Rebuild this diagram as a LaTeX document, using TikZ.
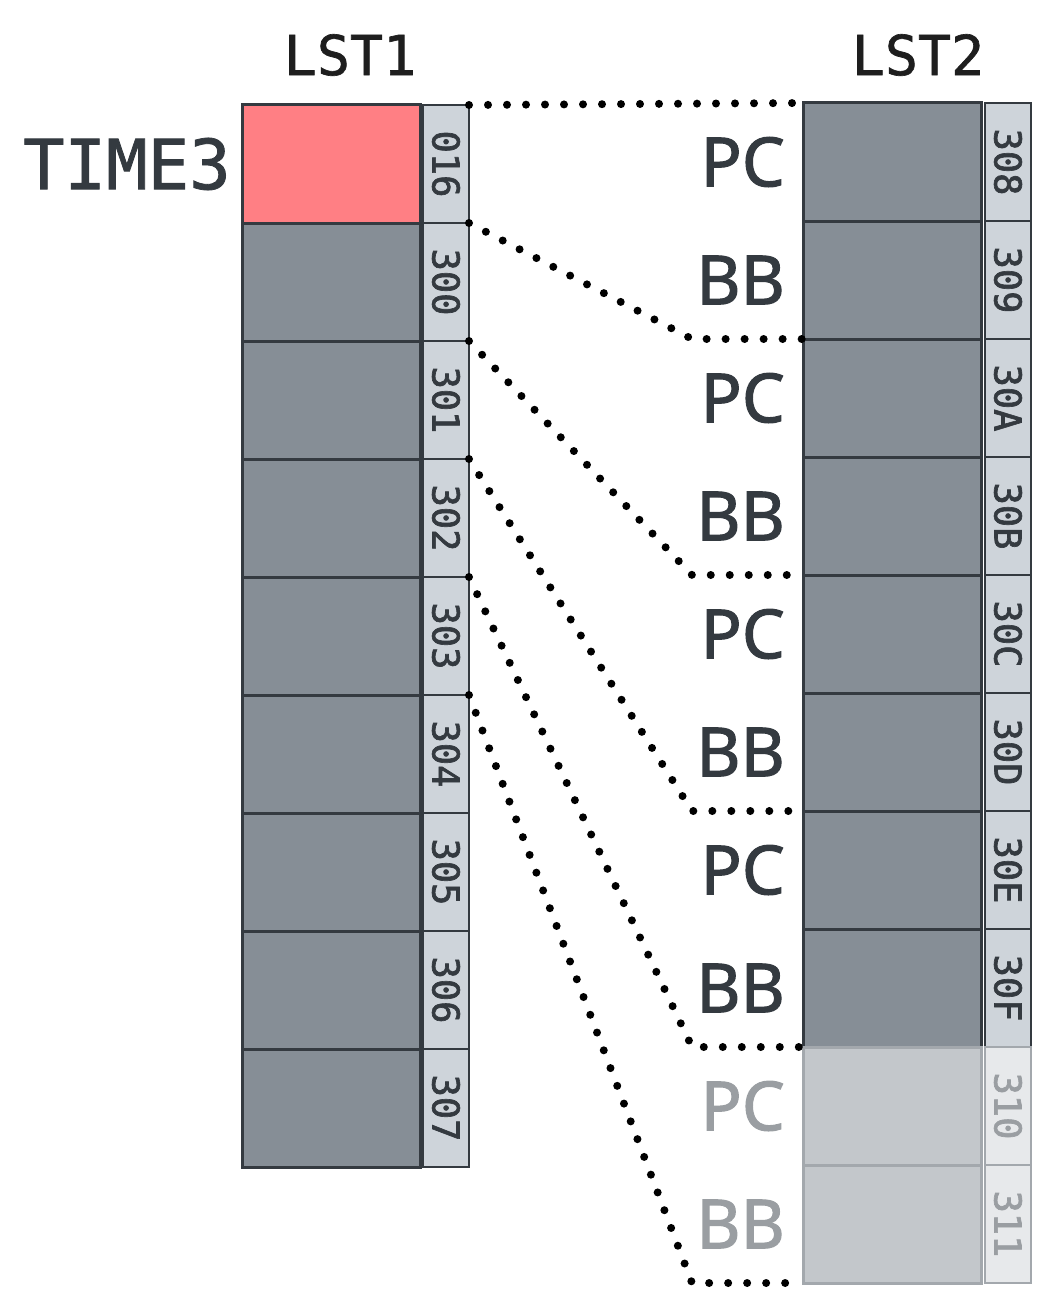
\documentclass[tikz,border=0pt]{standalone}
\usepackage{fontspec}
\setmainfont{Noto Sans}
\newfontfamily\namefont[FakeBold=1.6]{Noto Sans}
\newfontfamily\monofont[FakeBold=1.2]{DejaVu Sans Mono}
\newfontfamily\tagfont[FakeBold=1.8]{DejaVu Sans Mono}
\usepackage{tikz}
\usetikzlibrary{positioning}
\definecolor{slate}{HTML}{343A40}
\definecolor{headblack}{HTML}{1E1E1E}
\definecolor{cellgray}{HTML}{868E96}
\definecolor{taggray}{HTML}{CED4DA}
\definecolor{salmon}{HTML}{FF7F84}
\definecolor{fadecell}{HTML}{C3C7CB}
\definecolor{fadetag}{HTML}{E7E9EB}
\definecolor{fadetext}{HTML}{9A9EA2}
\definecolor{fadeline}{HTML}{A3A8AD}

\begin{document}
\begin{tikzpicture}[x = 1pt, y = -1pt, node distance = 0pt]
  \useasboundingbox (0,0) rectangle (1054,1303);
  \tikzset{CellStyle/.style = {shape          = rectangle,
                               draw           = slate,
                               fill           = cellgray,
                               line width     = 3pt,
                               minimum width  = 178pt,
                               minimum height = 118pt,
                               inner sep      = 0pt,
                               outer sep      = 0pt}}
  \tikzset{TagStyle/.style  = {shape          = rectangle,
                               draw           = slate,
                               fill           = taggray,
                               text           = slate,
                               line width     = 2.5pt,
                               minimum width  = 46pt,
                               minimum height = 118pt,
                               inner sep      = 0pt,
                               outer sep      = 0pt,
                               font           = \tagfont\fontsize{37}{40}\selectfont}}
  \tikzset{NameStyle/.style = {text           = slate,
                               inner sep      = 0pt,
                               font           = \namefont\fontsize{68}{80}\selectfont}}
  \tikzset{HeadStyle/.style = {text           = headblack,
                               inner sep      = 0pt,
                               font           = \monofont\fontsize{55}{60}\selectfont}}
  \tikzset{FadeStyle/.style = {draw           = fadeline,
                               text           = fadetext}}
  \tikzset{DotStyle/.style  = {line width     = 8pt,
                               line cap       = round,
                               dash pattern   = on 0pt off 19pt}}

     % LST1
     \node[HeadStyle] (H1) at (350,55) {LST1};
     \node[CellStyle, fill = salmon] (L1) at (331,164) {};
     \node[CellStyle, below = of L1] (L2) {};
     \node[CellStyle, below = of L2] (L3) {};
     \node[CellStyle, below = of L3] (L4) {};
     \node[CellStyle, below = of L4] (L5) {};
     \node[CellStyle, below = of L5] (L6) {};
     \node[CellStyle, below = of L6] (L7) {};
     \node[CellStyle, below = of L7] (L8) {};
     \node[CellStyle, below = of L8] (L9) {};
     \node[TagStyle, right = 3pt of L1] (A1) {\rotatebox{-90}{016}};
     \node[TagStyle, right = 3pt of L2] (A2) {\rotatebox{-90}{300}};
     \node[TagStyle, right = 3pt of L3] (A3) {\rotatebox{-90}{301}};
     \node[TagStyle, right = 3pt of L4] (A4) {\rotatebox{-90}{302}};
     \node[TagStyle, right = 3pt of L5] (A5) {\rotatebox{-90}{303}};
     \node[TagStyle, right = 3pt of L6] (A6) {\rotatebox{-90}{304}};
     \node[TagStyle, right = 3pt of L7] (A7) {\rotatebox{-90}{305}};
     \node[TagStyle, right = 3pt of L8] (A8) {\rotatebox{-90}{306}};
     \node[TagStyle, right = 3pt of L9] (A9) {\rotatebox{-90}{307}};
     \node[NameStyle, font = \monofont\fontsize{69}{70}\selectfont,
           left = 11pt of L1] (T) {TIME3};

     % LST2
     \node[HeadStyle] (H2) at (918,55) {LST2};
     \node[CellStyle] (R1) at (892,162) {};
     \node[CellStyle, below = of R1] (R2) {};
     \node[CellStyle, below = of R2] (R3) {};
     \node[CellStyle, below = of R3] (R4) {};
     \node[CellStyle, below = of R4] (R5) {};
     \node[CellStyle, below = of R5] (R6) {};
     \node[CellStyle, below = of R6] (R7) {};
     \node[CellStyle, below = of R7] (R8) {};
     \node[CellStyle, FadeStyle, fill = fadecell, below = of R8] (R9) {};
     \node[CellStyle, FadeStyle, fill = fadecell, below = of R9] (R10) {};
     \node[TagStyle, right = 4pt of R1] (B1) {\rotatebox{-90}{308}};
     \node[TagStyle, right = 4pt of R2] (B2) {\rotatebox{-90}{309}};
     \node[TagStyle, right = 4pt of R3] (B3) {\rotatebox{-90}{30A}};
     \node[TagStyle, right = 4pt of R4] (B4) {\rotatebox{-90}{30B}};
     \node[TagStyle, right = 4pt of R5] (B5) {\rotatebox{-90}{30C}};
     \node[TagStyle, right = 4pt of R6] (B6) {\rotatebox{-90}{30D}};
     \node[TagStyle, right = 4pt of R7] (B7) {\rotatebox{-90}{30E}};
     \node[TagStyle, right = 4pt of R8] (B8) {\rotatebox{-90}{30F}};
     \node[TagStyle, FadeStyle, fill = fadetag, right = 4pt of R9] (B9) {\rotatebox{-90}{310}};
     \node[TagStyle, FadeStyle, fill = fadetag, right = 4pt of R10] (B10) {\rotatebox{-90}{311}};
     \node[NameStyle, left = 18pt of R1] (P1) {PC};
     \node[NameStyle, left = 18pt of R2] (Q1) {BB};
     \node[NameStyle, left = 18pt of R3] (P2) {PC};
     \node[NameStyle, left = 18pt of R4] (Q2) {BB};
     \node[NameStyle, left = 18pt of R5] (P3) {PC};
     \node[NameStyle, left = 18pt of R6] (Q3) {BB};
     \node[NameStyle, left = 18pt of R7] (P4) {PC};
     \node[NameStyle, left = 18pt of R8] (Q4) {BB};
     \node[NameStyle, text = fadetext, left = 18pt of R9] (P5) {PC};
     \node[NameStyle, text = fadetext, left = 18pt of R10] (Q5) {BB};

     % dotted links
     \draw[DotStyle] (A1.north east) -- (R1.north west);
     \draw[DotStyle] (A1.south east) -- ([xshift = -111pt]R2.south west) -- (R2.south west);
     \draw[DotStyle] (A2.south east) -- ([xshift = -111pt]R4.south west) -- (R4.south west);
     \draw[DotStyle] (A3.south east) -- ([xshift = -111pt]R6.south west) -- (R6.south west);
     \draw[DotStyle] (A4.south east) -- ([xshift = -111pt]R8.south west) -- (R8.south west);
     \draw[DotStyle] (A5.south east) -- ([xshift = -111pt]R10.south west) -- (R10.south west);
  \end{tikzpicture}
\end{document}
